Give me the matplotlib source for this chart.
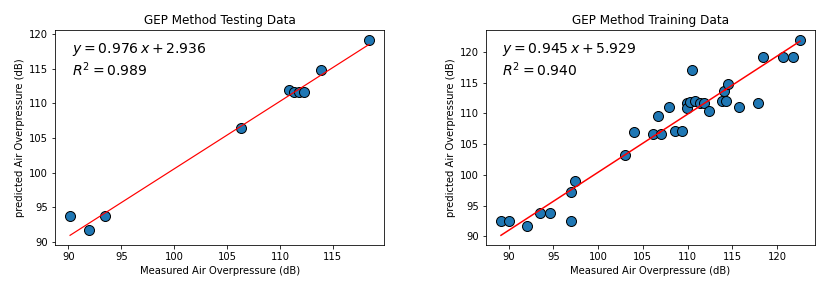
import numpy as np
import matplotlib.pyplot as plt

# Testing data (measured, predicted)
test_measured = [90.16, 91.93, 93.44, 106.29, 110.83, 111.33, 111.84, 112.31, 113.86, 118.42]
test_predicted = [93.71, 91.69, 93.71, 106.5, 111.95, 111.61, 111.61, 111.61, 114.75, 119.19]
test_slope, test_intercept, test_r2 = 0.976, 2.936, 0.989

# Training data (measured, predicted)
train_measured = [89.14, 90.07, 92.01, 93.53, 94.65, 96.96, 96.96, 97.44, 102.96, 104.04,
                  106.17, 106.99, 106.72, 107.95, 108.59, 109.34, 109.9, 109.9, 110.27, 110.46,
                  110.83, 111.39, 111.84, 112.43, 113.88, 114.26, 114.1, 114.48, 115.71, 117.9,
                  118.39, 120.7, 121.75, 122.57]
train_predicted = [92.44, 92.44, 91.63, 93.74, 93.74, 92.44, 97.22, 99.01, 103.18, 107.03,
                   106.66, 106.66, 109.52, 111.05, 107.2, 107.2, 111.7, 110.82, 111.8, 117.07,
                   112.08, 111.7, 111.7, 110.45, 112.08, 112.08, 113.7, 114.79, 110.99, 111.7,
                   119.18, 119.18, 119.18, 122.0]
train_slope, train_intercept, train_r2 = 0.945, 5.929, 0.940

fig, axes = plt.subplots(1, 2, figsize=(835 / 72, 288 / 72), dpi=72)
fig.subplots_adjust(left=0.066, right=0.976, bottom=0.149, top=0.896, wspace=0.31)

panels = [
    (axes[0], test_measured, test_predicted, test_slope, test_intercept, test_r2, 'GEP Method Testing Data', 1.2),
    (axes[1], train_measured, train_predicted, train_slope, train_intercept, train_r2, 'GEP Method Training Data', 1.5),
]

for ax, x, y, slope, intercept, r2, title, lw in panels:
    x = np.array(x)
    ax.scatter(x, y, s=100, color='#1f77b4', edgecolors='black', linewidths=1, zorder=2)
    ax.plot(x, slope * x + intercept, color='red', linewidth=lw, zorder=3)
    ax.text(0.05, 0.95, '$y = %.3f\\,x + %.3f$\n$R^2 = %.3f$' % (slope, intercept, r2),
            transform=ax.transAxes, fontsize=14, va='top', ha='left')
    ax.set_title(title)
    ax.set_xlabel('Measured Air Overpressure (dB)')
    ax.set_ylabel('predicted Air Overpressure (dB)')

plt.savefig('out.png', dpi=72)
